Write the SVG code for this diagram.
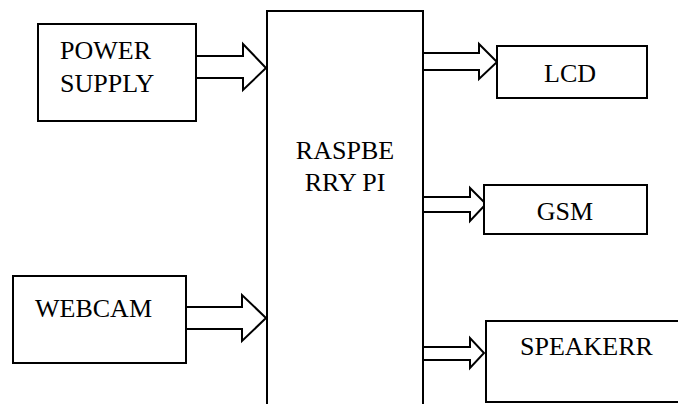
<svg xmlns="http://www.w3.org/2000/svg" width="678" height="404" viewBox="0 0 678 404">
<style>
.box{fill:#fff;stroke:#000;stroke-width:2}
.arr{fill:#fff;stroke:#000;stroke-width:2;stroke-linejoin:miter}
text{font-family:"Liberation Serif","Times New Roman",serif;font-size:26px;fill:#000}
</style>
<rect width="678" height="404" fill="#fff"/>
<g id="connectors">
<polygon class="arr" points="196,56 243,56 243,44 266,68 243,90 243,78 196,78"/>
<polygon class="arr" points="186,307 242,307 242,295 266,318 242,341 242,329 186,329"/>
<polygon class="arr" points="422,53 479,53 479,44 497,62 479,79 479,70 422,70"/>
<polygon class="arr" points="422,197 470,197 470,188 486,204 470,221 470,212 422,212"/>
<polygon class="arr" points="422,347 470,347 470,338 484,353 470,368 470,360 422,360"/>
</g>
<g id="raspberry">
<path class="box" fill="none" d="M267,405 V11 H423 V405"/>
<text x="345" y="159" text-anchor="middle">RASPBE</text>
<text x="345" y="191" text-anchor="middle">RRY PI</text>
</g>
<g id="power">
<rect class="box" x="38" y="24" width="158" height="97"/>
<text x="60" y="59">POWER</text>
<text x="60" y="92">SUPPLY</text>
</g>
<g id="webcam">
<rect class="box" x="13" y="276" width="173" height="87"/>
<text x="35" y="317">WEBCAM</text>
</g>
<g id="lcd">
<rect class="box" x="497" y="46" width="150" height="52"/>
<text x="570" y="82" text-anchor="middle">LCD</text>
</g>
<g id="gsm">
<rect class="box" x="484" y="185" width="163" height="49"/>
<text x="565" y="220" text-anchor="middle">GSM</text>
</g>
<g id="speaker">
<rect class="box" x="486" y="321" width="200" height="81"/>
<text x="520" y="355">SPEAKERR</text>
</g>
</svg>
